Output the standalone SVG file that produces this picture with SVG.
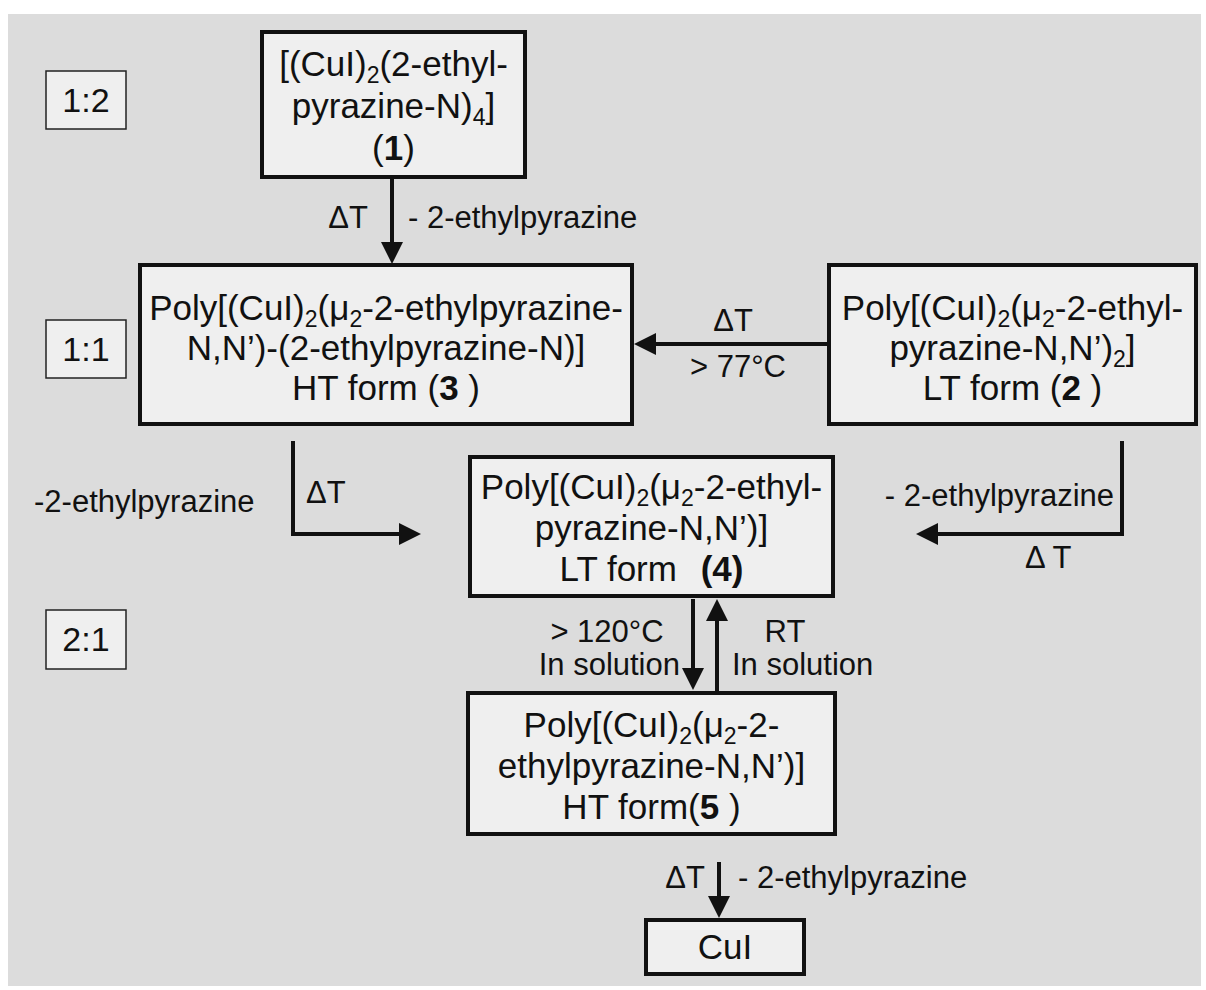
<svg xmlns="http://www.w3.org/2000/svg" width="1206" height="990" viewBox="0 0 1206 990">
<defs>
<style>
text{font-family:"Liberation Sans",Arial,sans-serif;fill:#111}
.bt{font-size:35px;text-anchor:middle}
.lb{font-size:31px}
.rt{font-size:34px;text-anchor:middle}
.node{fill:#efefef;stroke:#111;stroke-width:4}
.ratio{fill:#efefef;stroke:#222;stroke-width:1.5}
.conn{fill:none;stroke:#111;stroke-width:4}
.sub{font-size:23px}
b,.b{font-weight:bold}
</style>
<marker id="ah" markerUnits="userSpaceOnUse" viewBox="0 0 22 22" markerWidth="22" markerHeight="22" refX="10" refY="11" orient="auto">
<path d="M0,0 L22,11 L0,22 z" fill="#111"/>
</marker>
</defs>
<rect x="8" y="14" width="1193" height="972" fill="#dcdcdc"/>

<g id="ratio-1-2"><rect class="ratio" x="46" y="71" width="80" height="58"/><text class="rt" x="86" y="112">1:2</text></g>
<g id="ratio-1-1"><rect class="ratio" x="46" y="320" width="80" height="58"/><text class="rt" x="86" y="361">1:1</text></g>
<g id="ratio-2-1"><rect class="ratio" x="46" y="610" width="80" height="59"/><text class="rt" x="86" y="651">2:1</text></g>

<g id="node1">
<rect class="node" x="262" y="32" width="263" height="145"/>
<text class="bt" x="393.5" y="76">[(CuI)<tspan class="sub" dy="7">2</tspan><tspan dy="-7">(2-ethyl-</tspan></text>
<text class="bt" x="393.5" y="118">pyrazine-N)<tspan class="sub" dy="7">4</tspan><tspan dy="-7">]</tspan></text>
<text class="bt" x="393.5" y="160">(<tspan class="b">1</tspan>)</text>
</g>

<g id="node3">
<rect class="node" x="140" y="265" width="492" height="159"/>
<text class="bt" x="386" y="320">Poly[(CuI)<tspan class="sub" dy="7">2</tspan><tspan dy="-7">(μ</tspan><tspan class="sub" dy="7">2</tspan><tspan dy="-7">-2-ethylpyrazine-</tspan></text>
<text class="bt" x="386" y="360">N,N’)-(2-ethylpyrazine-N)]</text>
<text class="bt" x="386" y="400">HT form (<tspan class="b">3</tspan> )</text>
</g>

<g id="node2">
<rect class="node" x="829" y="265" width="367" height="159"/>
<text class="bt" x="1012.5" y="320">Poly[(CuI)<tspan class="sub" dy="7">2</tspan><tspan dy="-7">(μ</tspan><tspan class="sub" dy="7">2</tspan><tspan dy="-7">-2-ethyl-</tspan></text>
<text class="bt" x="1012.5" y="360">pyrazine-N,N’)<tspan class="sub" dy="7">2</tspan><tspan dy="-7">]</tspan></text>
<text class="bt" x="1012.5" y="400">LT form (<tspan class="b">2</tspan> )</text>
</g>

<g id="node4">
<rect class="node" x="470" y="457" width="363" height="139"/>
<text class="bt" x="651.5" y="499">Poly[(CuI)<tspan class="sub" dy="7">2</tspan><tspan dy="-7">(μ</tspan><tspan class="sub" dy="7">2</tspan><tspan dy="-7">-2-ethyl-</tspan></text>
<text class="bt" x="651.5" y="540">pyrazine-N,N’)]</text>
<text class="bt" x="651.5" y="581">LT form <tspan class="b" dx="14">(4)</tspan></text>
</g>

<g id="node5">
<rect class="node" x="468" y="693" width="367" height="141"/>
<text class="bt" x="651.5" y="737">Poly[(CuI)<tspan class="sub" dy="7">2</tspan><tspan dy="-7">(μ</tspan><tspan class="sub" dy="7">2</tspan><tspan dy="-7">-2-</tspan></text>
<text class="bt" x="651.5" y="778">ethylpyrazine-N,N’)]</text>
<text class="bt" x="651.5" y="819">HT form(<tspan class="b">5</tspan> )</text>
</g>

<g id="node-cui">
<rect class="node" x="646" y="920" width="158" height="54"/>
<text class="bt" x="725" y="959">CuI</text>
</g>

<g id="connectors">
<line class="conn" x1="392" y1="179" x2="392" y2="252" marker-end="url(#ah)"/>
<line class="conn" x1="827" y1="344" x2="646" y2="344" marker-end="url(#ah)"/>
<polyline class="conn" points="293,441 293,534 409,534" marker-end="url(#ah)"/>
<polyline class="conn" points="1122,441 1122,534 928,534" marker-end="url(#ah)"/>
<line class="conn" x1="693" y1="599" x2="693" y2="678" marker-end="url(#ah)"/>
<line class="conn" x1="717" y1="693" x2="717" y2="611" marker-end="url(#ah)"/>
<line class="conn" x1="719" y1="862" x2="719" y2="906" marker-end="url(#ah)"/>
</g>

<g id="labels">
<text class="lb" x="368" y="228" text-anchor="end">ΔT</text>
<text class="lb" x="408" y="228">- 2-ethylpyrazine</text>
<text class="lb" x="733" y="331" text-anchor="middle">ΔT</text>
<text class="lb" x="738" y="377" text-anchor="middle">&gt; 77°C</text>
<text class="lb" x="34" y="512">-2-ethylpyrazine</text>
<text class="lb" x="306" y="503">ΔT</text>
<text class="lb" x="1114" y="506" text-anchor="end">- 2-ethylpyrazine</text>
<text class="lb" x="1025" y="568">Δ T</text>
<text class="lb" x="607" y="642" text-anchor="middle">&gt; 120°C</text>
<text class="lb" x="680" y="675" text-anchor="end">In solution</text>
<text class="lb" x="785" y="642" text-anchor="middle">RT</text>
<text class="lb" x="732" y="675">In solution</text>
<text class="lb" x="705" y="888" text-anchor="end">ΔT</text>
<text class="lb" x="738" y="888">- 2-ethylpyrazine</text>
</g>
</svg>
